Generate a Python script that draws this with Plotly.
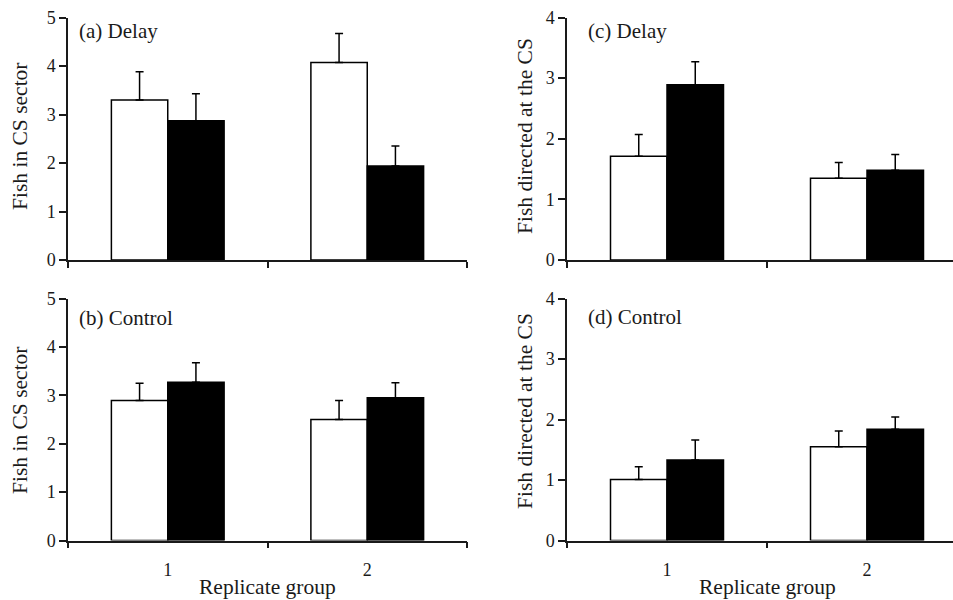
import plotly.graph_objects as go

groups = ["1", "2"]

# (a) Delay - Fish in CS sector
a_white = [3.30, 4.07]
a_white_err = [0.58, 0.60]
a_black = [2.87, 1.94]
a_black_err = [0.56, 0.41]

# (c) Delay - Fish directed at the CS
c_white = [1.71, 1.35]
c_white_err = [0.36, 0.26]
c_black = [2.89, 1.48]
c_black_err = [0.38, 0.26]

# (b) Control - Fish in CS sector
b_white = [2.89, 2.50]
b_white_err = [0.36, 0.39]
b_black = [3.27, 2.95]
b_black_err = [0.40, 0.31]

# (d) Control - Fish directed at the CS
d_white = [1.01, 1.55]
d_white_err = [0.21, 0.26]
d_black = [1.33, 1.84]
d_black_err = [0.33, 0.20]

panel_titles = ["(a) Delay", "(c) Delay", "(b) Control", "(d) Control"]
y_titles = ["Fish in CS sector", "Fish directed at the CS",
            "Fish in CS sector", "Fish directed at the CS"]
x_title = "Replicate group"

FONT = "Liberation Serif"
INK = "#1a1a1a"
W, H = 953, 600

panels = [
    (a_white, a_white_err, a_black, a_black_err),
    (c_white, c_white_err, c_black, c_black_err),
    (b_white, b_white_err, b_black, b_black_err),
    (d_white, d_white_err, d_black, d_black_err),
]

fig = go.Figure()
for i, (wv, we, bv, be) in enumerate(panels):
    ax = "" if i == 0 else str(i + 1)
    for vals, errs, col in ((wv, we, "white"), (bv, be, "black")):
        fig.add_trace(go.Bar(
            x=groups, y=vals, xaxis="x" + ax, yaxis="y" + ax,
            marker=dict(color=col, line=dict(color="black", width=1.5)),
            error_y=dict(type="data", symmetric=False, array=errs,
                         arrayminus=[0] * len(errs), color="black",
                         thickness=1.5, width=4),
            showlegend=False, hoverinfo="skip",
        ))

left_dom = [68 / W, 467 / W]
right_dom = [567 / W, 1.0]
top_dom = [(H - 260) / H, (H - 17.5) / H]
bot_dom = [(H - 540.5) / H, (H - 298.5) / H]

def xa(dom, anchor, rng, labels):
    return dict(domain=dom, anchor=anchor, type="category", range=rng,
                showline=True, linecolor=INK, linewidth=1.5,
                ticks="outside", ticklen=6, tickwidth=1.5, tickcolor=INK,
                tickson="boundaries", showgrid=False, zeroline=False,
                showticklabels=labels, ticklabelstandoff=12,
                tickfont=dict(family=FONT, size=18, color=INK),
                automargin=False, fixedrange=True)

def ya(dom, anchor, top):
    return dict(domain=dom, anchor=anchor, range=[0, top], dtick=1,
                showline=True, linecolor=INK, linewidth=1.5,
                ticks="outside", ticklen=7, tickwidth=1.5, tickcolor=INK,
                showgrid=False, zeroline=False,
                tickfont=dict(family=FONT, size=18, color=INK),
                automargin=False, fixedrange=True)

fig.update_layout(
    width=W, height=H,
    margin=dict(l=0, r=0, t=0, b=0, pad=0, autoexpand=False),
    paper_bgcolor="white", plot_bgcolor="white",
    barmode="group", bargap=0.435, bargroupgap=0,
    xaxis=xa(left_dom, "y", [-0.5, 1.5], False),
    yaxis=ya(top_dom, "x", 5),
    xaxis2=xa(right_dom, "y2", [-0.5, 1.43], False),
    yaxis2=ya(top_dom, "x2", 4),
    xaxis3=xa(left_dom, "y3", [-0.5, 1.5], True),
    yaxis3=ya(bot_dom, "x3", 5),
    xaxis4=xa(right_dom, "y4", [-0.5, 1.43], True),
    yaxis4=ya(bot_dom, "x4", 4),
)

ann = []
# panel labels
label_pos = [(77 / W, 1 - 31 / H), (586 / W, 1 - 31 / H),
             (77 / W, 1 - 318 / H), (586 / W, 1 - 317 / H)]
for t, (x, y) in zip(panel_titles, label_pos):
    ann.append(dict(text=t, x=x, y=y, xref="paper", yref="paper",
                    xanchor="left", yanchor="middle", showarrow=False,
                    font=dict(family=FONT, size=21, color=INK)))
# y-axis titles
ytitle_pos = [(20 / W, 1 - 136 / H), (525 / W, 1 - 136 / H),
              (20 / W, 1 - 420 / H), (525 / W, 1 - 411 / H)]
for t, (x, y) in zip(y_titles, ytitle_pos):
    ann.append(dict(text=t, x=x, y=y, xref="paper", yref="paper",
                    xanchor="center", yanchor="middle", textangle=-90,
                    showarrow=False,
                    font=dict(family=FONT, size=21.5, color=INK)))
# x-axis titles
for xr in ("x3", "x4"):
    ann.append(dict(text=x_title, x=0.5, y=1 - 587 / H, xref=xr, yref="paper",
                    xanchor="center", yanchor="middle", showarrow=False,
                    font=dict(family=FONT, size=21.5, color=INK)))
fig.update_layout(annotations=ann)

fig.write_html("out.html")
